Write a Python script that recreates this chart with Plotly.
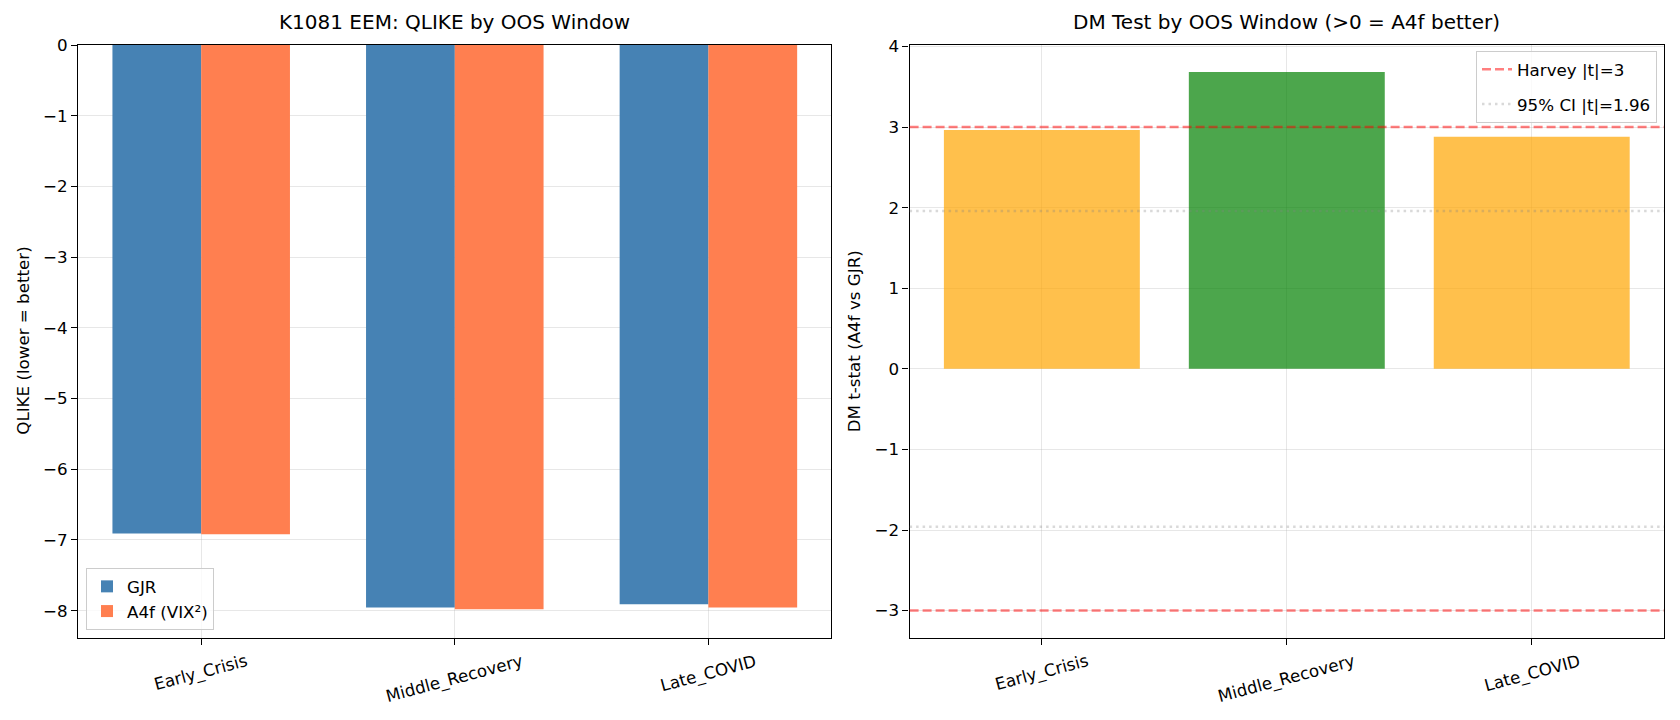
import plotly.graph_objects as go

# ---------------- data ----------------
windows = ["Early_Crisis", "Middle_Recovery", "Late_COVID"]
qlike_gjr = [-6.907, -7.955, -7.91]
qlike_a4f = [-6.92, -7.98, -7.955]
dm_tstat = [2.965, 3.685, 2.88]
harvey_t = 3
ci_t = 1.96

W, H = 1680, 720
FONT = "DejaVu Sans"
TICK = 16.7
TITLE = 20

def px(x):
    return x / W

def py(y):
    return 1 - y / H

# axes boxes (pixels)
L1, R1 = 78.2, 831.4
L2, R2 = 909.6, 1664.0
T, B = 45.0, 637.5

dm_colors = ["rgba(0,128,0,0.7)" if v > harvey_t else "rgba(255,165,0,0.7)" for v in dm_tstat]

fig = go.Figure()
fig.add_trace(go.Bar(x=windows, y=qlike_gjr, name="GJR", marker_color="#4682B4",
                     marker_line_width=0, xaxis="x", yaxis="y", legend="legend"))
fig.add_trace(go.Bar(x=windows, y=qlike_a4f, name="A4f (VIX²)", marker_color="#FF7F50",
                     marker_line_width=0, xaxis="x", yaxis="y", legend="legend"))
fig.add_trace(go.Bar(x=windows, y=dm_tstat, marker_color=dm_colors, marker_line_width=0,
                     width=0.8, showlegend=False, xaxis="x2", yaxis="y2"))

shapes = []
for i, v in enumerate([harvey_t, -harvey_t]):
    shapes.append(dict(type="line", xref="x2 domain", yref="y2", x0=0, x1=1, y0=v, y1=v,
                       line=dict(color="rgba(255,0,0,0.5)", width=2.5, dash="9px,4px"),
                       showlegend=(i == 0), name="Harvey |t|=3", legend="legend2",
                       legendgroup="h", layer="above"))
for i, v in enumerate([ci_t, -ci_t]):
    shapes.append(dict(type="line", xref="x2 domain", yref="y2", x0=0, x1=1, y0=v, y1=v,
                       line=dict(color="rgba(128,128,128,0.3)", width=2.5, dash="2.5px,4px"),
                       showlegend=(i == 0), name="95% CI |t|=1.96", legend="legend2",
                       legendgroup="c", layer="above"))

axis_common = dict(showline=True, linecolor="black", linewidth=1.3, mirror=True,
                   ticks="outside", ticklen=6, tickwidth=1.3, tickcolor="black",
                   showgrid=True, gridcolor="rgba(176,176,176,0.3)", gridwidth=1.3,
                   zeroline=False, automargin=False,
                   tickfont=dict(family=FONT, size=TICK, color="black"))

annotations = [
    dict(text="K1081 EEM: QLIKE by OOS Window", x=px((L1 + R1) / 2), y=py(22),
         xref="paper", yref="paper", xanchor="center", yanchor="middle",
         showarrow=False, font=dict(family=FONT, size=TITLE)),
    dict(text="DM Test by OOS Window (>0 = A4f better)", x=px((L2 + R2) / 2), y=py(22),
         xref="paper", yref="paper", xanchor="center", yanchor="middle",
         showarrow=False, font=dict(family=FONT, size=TITLE)),
    dict(text="QLIKE (lower = better)", x=px(23.5), y=py((T + B) / 2), textangle=-90,
         xref="paper", yref="paper", xanchor="center", yanchor="middle",
         showarrow=False, font=dict(family=FONT, size=TICK)),
    dict(text="DM t-stat (A4f vs GJR)", x=px(854), y=py((T + B) / 2), textangle=-90,
         xref="paper", yref="paper", xanchor="center", yanchor="middle",
         showarrow=False, font=dict(family=FONT, size=TICK)),
]
# rotated category labels, centred under each tick (as matplotlib rotation=15)
for xr in ["x", "x2"]:
    for w in windows:
        annotations.append(dict(text=w, x=w, xref=xr, y=py(B + 11.5), yref="paper",
                                xanchor="center", yanchor="top", textangle=-15,
                                showarrow=False, borderpad=0,
                                font=dict(family=FONT, size=TICK, color="black")))

fig.update_layout(
    width=W, height=H, margin=dict(l=0, r=0, t=0, b=0, autoexpand=False),
    paper_bgcolor="white", plot_bgcolor="white",
    font=dict(family=FONT, size=TICK, color="black"),
    barmode="group", bargap=0.3, bargroupgap=0,
    xaxis=dict(domain=[px(L1), px(R1)], anchor="y", range=[-0.485, 2.485],
               showticklabels=False, **axis_common),
    yaxis=dict(domain=[py(B), py(T)], anchor="x", range=[-8.379, 0], dtick=1,
               **axis_common),
    xaxis2=dict(domain=[px(L2), px(R2)], anchor="y2", range=[-0.54, 2.54],
                showticklabels=False, **axis_common),
    yaxis2=dict(domain=[py(B), py(T)], anchor="x2", range=[-3.334, 4.019], dtick=1,
                **axis_common),
    shapes=shapes,
    legend=dict(x=px(86), y=py(630), xanchor="left", yanchor="bottom",
                bgcolor="rgba(255,255,255,0.8)", bordercolor="#cccccc", borderwidth=1,
                font=dict(family=FONT, size=TICK)),
    legend2=dict(x=px(1657), y=py(51), xanchor="right", yanchor="top",
                 bgcolor="rgba(255,255,255,0.8)", bordercolor="#cccccc", borderwidth=1,
                 font=dict(family=FONT, size=TICK)),
    annotations=annotations,
)

fig.write_html("out.html")
